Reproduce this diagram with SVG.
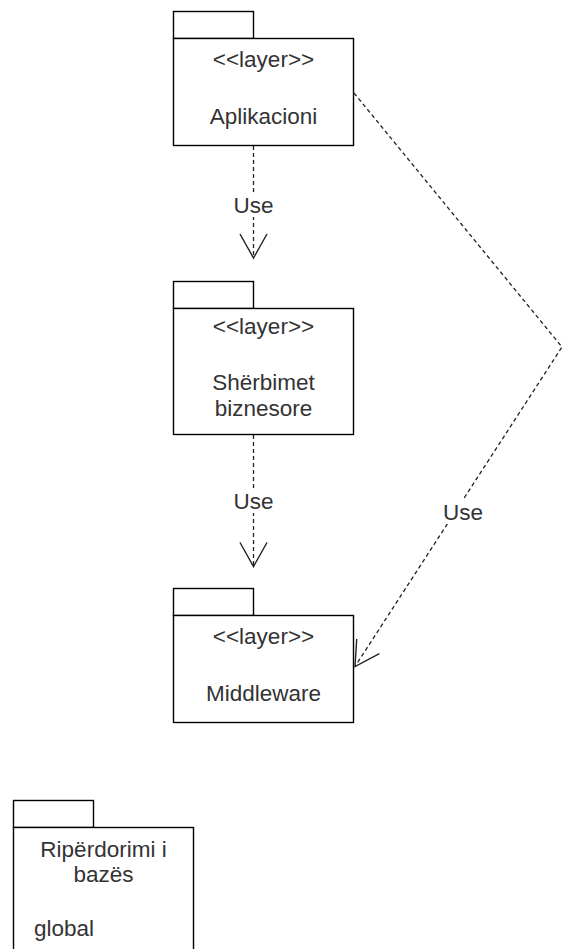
<svg xmlns="http://www.w3.org/2000/svg" width="562" height="949" viewBox="0 0 562 949">
  <style>
    .shape { fill: #ffffff; stroke: #000000; stroke-width: 1.4; }
    .txt { font-family: "Liberation Sans", Arial, sans-serif; font-size: 22.5px; fill: #333333; text-anchor: middle; }
    .edge { fill: none; stroke: #222222; stroke-width: 1.3; stroke-dasharray: 4 3; }
    .lblbg { fill: #ffffff; }
  </style>
  <defs>
    <marker id="openArrow" markerUnits="userSpaceOnUse" markerWidth="30" markerHeight="30" refX="0" refY="0" orient="auto" overflow="visible">
      <path d="M -24 -13.5 L 0 0 L -24 13.5" fill="none" stroke="#222222" stroke-width="1.4"/>
    </marker>
  </defs>
  <rect width="562" height="949" fill="#ffffff"/>

  <!-- package: Aplikacioni -->
  <g id="aplikacioni">
    <rect class="shape" x="173.5" y="11.5" width="80" height="27"/>
    <rect class="shape" x="173.5" y="38.5" width="180" height="107"/>
    <text class="txt" x="263.5" y="66.5">&lt;&lt;layer&gt;&gt;</text>
    <text class="txt" x="263.5" y="124">Aplikacioni</text>
  </g>

  <!-- package: Shërbimet biznesore -->
  <g id="sherbimet">
    <rect class="shape" x="173.5" y="281.5" width="80" height="27"/>
    <rect class="shape" x="173.5" y="308.5" width="180" height="126"/>
    <text class="txt" x="263.5" y="334">&lt;&lt;layer&gt;&gt;</text>
    <text class="txt" x="263.5" y="390">Shërbimet</text>
    <text class="txt" x="263.5" y="415.5">biznesore</text>
  </g>

  <!-- package: Middleware -->
  <g id="middleware">
    <rect class="shape" x="173.5" y="588.5" width="80" height="27"/>
    <rect class="shape" x="173.5" y="615.5" width="180" height="107"/>
    <text class="txt" x="263.5" y="644">&lt;&lt;layer&gt;&gt;</text>
    <text class="txt" x="263.5" y="701">Middleware</text>
  </g>

  <!-- package: Ripërdorimi i bazës -->
  <g id="riperdorimi">
    <rect class="shape" x="13.5" y="800.5" width="80" height="27"/>
    <rect class="shape" x="13.5" y="827.5" width="180" height="140"/>
    <text class="txt" x="103.5" y="857">Ripërdorimi i</text>
    <text class="txt" x="103.5" y="881.5">bazës</text>
    <text class="txt" x="34" y="936" style="text-anchor:start">global</text>
  </g>

  <!-- dependency connectors -->
  <g id="connectors">
    <path class="edge" d="M 253.5 146 L 253.5 258" marker-end="url(#openArrow)"/>
    <rect class="lblbg" x="232" y="193" width="43" height="24"/>
    <text class="txt" x="253.5" y="212.5">Use</text>

    <path class="edge" d="M 253.5 435 L 253.5 566.5" marker-end="url(#openArrow)"/>
    <rect class="lblbg" x="232" y="489" width="43" height="24"/>
    <text class="txt" x="253.5" y="509">Use</text>

    <path class="edge" d="M 354 93 L 562 347 L 355 666.5" marker-end="url(#openArrow)"/>
    <rect class="lblbg" x="441.5" y="500" width="43" height="24"/>
    <text class="txt" x="463" y="520">Use</text>
  </g>
</svg>
